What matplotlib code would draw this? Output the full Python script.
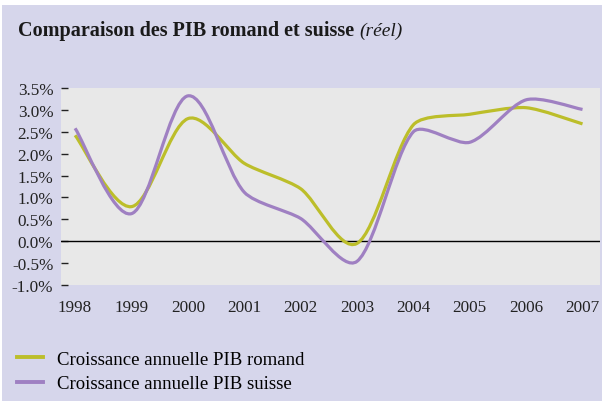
import matplotlib
matplotlib.use("Agg")
import matplotlib.pyplot as plt
import numpy as np
from matplotlib.path import Path
from matplotlib.patches import PathPatch, Rectangle
from matplotlib.lines import Line2D

years = [1998, 1999, 2000, 2001, 2002, 2003, 2004, 2005, 2006, 2007]
romand = [2.42, 0.79, 2.80, 1.78, 1.20, -0.05, 2.66, 2.90, 3.05, 2.68]
suisse = [2.58, 0.63, 3.32, 1.12, 0.52, -0.46, 2.50, 2.26, 3.23, 3.01]
ytick_vals = [-1.0, -0.5, 0.0, 0.5, 1.0, 1.5, 2.0, 2.5, 3.0, 3.5]
ytick_labels = ["-1.0%", "-0.5%", "0.0%", "0.5%", "1.0%", "1.5%", "2.0%", "2.5%", "3.0%", "3.5%"]
labels = ["Croissance annuelle PIB romand", "Croissance annuelle PIB suisse"]
colors = ["#bcbe2a", "#9f80c2"]

SERIF = ["Liberation Serif", "DejaVu Serif"]
plt.rcParams['font.family'] = SERIF

BG = "#d6d6eb"
fig = plt.figure(figsize=(6.02, 4.02), dpi=100)
fig.patch.set_facecolor("white")
fig.patches.append(Rectangle((2/602, 0), 1, 1 - 6/402, transform=fig.transFigure,
                             facecolor=BG, edgecolor="none", zorder=-10))

ax = fig.add_axes([61/602, 1 - 286/402, (600-61)/602, (286-89)/402])
ax.set_facecolor("#e8e8e8")
for s in ax.spines.values():
    s.set_visible(False)
ax.set_xlim(1997.75, 2007.31)
ax.set_ylim(-1.0, 3.5)


def smooth_path(xs, ys, sx=56.4, sy=43.8, cap=0.25):
    # Catmull-Rom style Bezier; control offsets capped relative to the segment (screen space)
    P = np.column_stack([np.asarray(xs, float) * sx, np.asarray(ys, float) * sy])
    n = len(P)
    D = [(P[min(i + 1, n - 1)] - P[max(i - 1, 0)]) / 6.0 for i in range(n)]
    verts = [P[0]]
    codes = [Path.MOVETO]
    for i in range(n - 1):
        L = np.hypot(*(P[i+1] - P[i]))
        o1, o2 = D[i], D[i+1]
        m1, m2 = np.hypot(*o1), np.hypot(*o2)
        if m1 > L * cap:
            o1 = o1 * (L * cap) / m1
        if m2 > L * cap:
            o2 = o2 * (L * cap) / m2
        verts += [P[i] + o1, P[i+1] - o2, P[i+1]]
        codes += [Path.CURVE4] * 3
    verts = np.array(verts) / np.array([sx, sy])
    return Path(verts, codes)


for ser, col in zip([romand, suisse], colors):
    ax.add_patch(PathPatch(smooth_path(years, ser), facecolor="none", edgecolor=col,
                           lw=2.3, capstyle="butt", zorder=3))

ax.axhline(0, color="black", lw=1.0, zorder=2)
ax.set_xticks(years)
ax.set_xticklabels([str(y) for y in years], fontsize=12.3, color="#222222")
ax.set_yticks(ytick_vals)
ax.set_yticklabels(ytick_labels, fontsize=12.3, color="#222222")
ax.tick_params(axis="x", length=0, pad=10)
ax.tick_params(axis="y", direction="in", length=5, width=1, color="#222222", pad=5.5)

t1 = fig.text(18/602, 1 - 31/402, "Comparaison des PIB romand et suisse", fontsize=14.5,
              fontweight="bold", va="center", ha="left", color="#1a1a1a")
fig.canvas.draw()
bb = t1.get_window_extent()
fig.text((bb.x1 + 5) / 602, 1 - 31/402, "(réel)", fontsize=14, style="italic",
         va="center", ha="left", color="#1a1a1a")

handles = [Line2D([0], [0], color=c, lw=2.8) for c in colors]
fig.legend(handles, labels, loc="upper left", bbox_to_anchor=(11/602, 1 - 346/402),
           frameon=False, fontsize=13.5, handlelength=1.4, handletextpad=0.75,
           labelspacing=0.4, borderaxespad=0, borderpad=0.3)

fig.savefig("out.png", dpi=100, facecolor=fig.get_facecolor())
